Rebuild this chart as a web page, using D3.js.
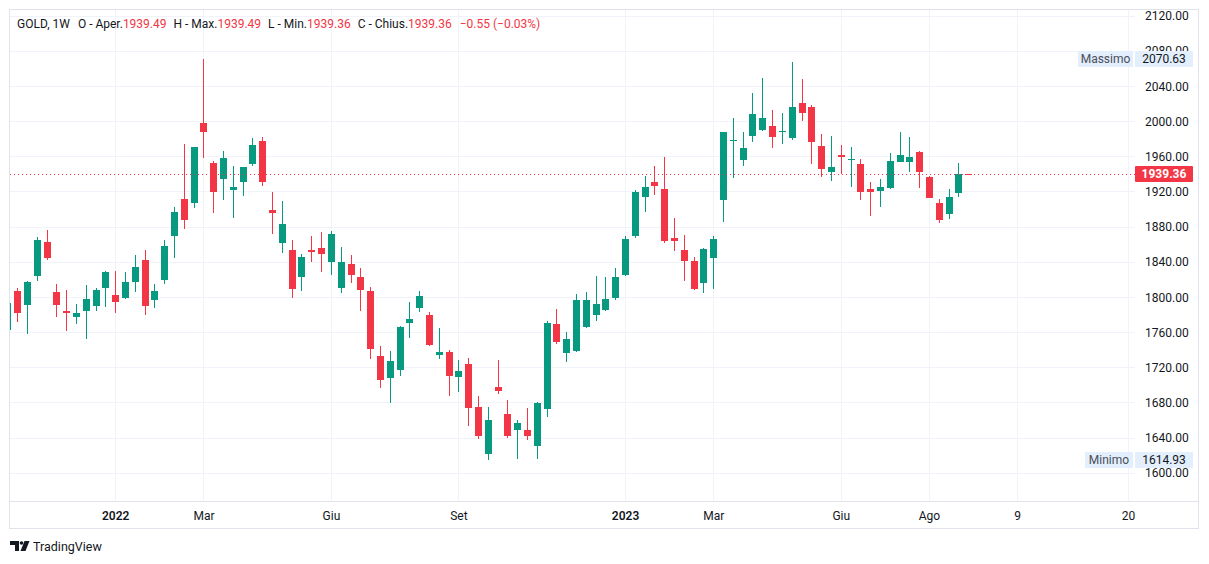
<!DOCTYPE html>
<html>
<head>
<meta charset="utf-8">
<script src="https://cdnjs.cloudflare.com/ajax/libs/d3/7.8.5/d3.min.js"></script>
<style>
  html, body { margin: 0; padding: 0; background: #fff; }
  svg { display: block; font-family: Roboto, "Noto Sans", sans-serif; }
</style>
</head>
<body>
<svg id="chart" width="1209" height="564"></svg>
<script>
// weekly GOLD candles, bar index -1 is the one cut off at the left edge
var bars = d3.range(-1, 98);

var opens = [1762,
  1806.6, 1791, 1824, 1862.4, 1805.5, 1784.2, 1777.4, 1784.2, 1789.9, 1810.4,
  1802.1, 1799, 1817.2, 1841.9, 1796.7, 1819.5, 1869.5, 1911.3, 1907.1, 1997.7,
  1951.9, 1934.4, 1921.9, 1931, 1951.4, 1977.3, 1898.8, 1861.6, 1853.3, 1822.9,
  1853.3, 1855.5, 1840, 1810.4, 1837.3, 1822.6, 1806.6, 1732.7, 1708, 1717.1,
  1770.6, 1787.6, 1779.3, 1734.2, 1737.2, 1709.1, 1723.6, 1674.7, 1621.6, 1697.4,
  1666.7, 1648.9, 1648.5, 1630.7, 1672.7, 1769.1, 1736.4, 1738.7, 1766, 1779.7,
  1785, 1799, 1825.2, 1869.5, 1913.9, 1930.6, 1922.7, 1866.9, 1853.3, 1840.8,
  1816.1, 1844.5, 1910.5, 1977.6, 1956, 1983.3, 1990.1, 1994.3, 1987.8, 1981,
  2020.5, 2015.9, 1971.6, 1942.3, 1961.3, 1956, 1951.1, 1922.7, 1920.7, 1924.1,
  1953.7, 1953.7, 1964.7, 1936.3, 1906.7, 1893.9, 1918.4, 1939.49];

var highs = [1800,
  1809.7, 1818, 1868.4, 1876, 1814.6, 1807.8, 1791.8, 1813.5, 1810, 1829.7,
  1829.4, 1828.2, 1847.6, 1853.3, 1814.6, 1864.6, 1902.5, 1973.8, 1971, 2070.63,
  1954.5, 1965.9, 1948.8, 1948, 1980.7, 1982.1, 1919.2, 1909, 1864.6, 1848.7,
  1869.2, 1873.7, 1874.9, 1856.7, 1847.6, 1832.8, 1811.2, 1744.1, 1738.4, 1766.8,
  1794.1, 1806.6, 1782.7, 1764.9, 1739.5, 1728.1, 1730.4, 1687.2, 1674.7, 1728.1,
  1682.6, 1659.9, 1673.5, 1680.4, 1772.5, 1786.1, 1760, 1803.2, 1805.5, 1823.7,
  1822.5, 1832.8, 1869.2, 1921.5, 1937.4, 1948.8, 1959, 1889.7, 1870.3, 1845.3,
  1855.5, 1869.2, 1988, 2003.4, 1987.5, 2031.9, 2048.9, 2012.5, 2009.1, 2067.1,
  2047.8, 2018.2, 1985.2, 1982.9, 1972.7, 1970.4, 1957.1, 1930.6, 1934, 1963.6,
  1987.5, 1981.8, 1965.9, 1937, 1910.9, 1922.7, 1952.2, 1939.49];

var lows = [1755,
  1771.7, 1758, 1818.3, 1842.2, 1777.4, 1761.5, 1769.4, 1752.4, 1784.2, 1788.4,
  1782, 1798, 1805.8, 1779.7, 1787.6, 1815, 1844.5, 1877.1, 1901.4, 1958.3,
  1895, 1910.5, 1890, 1915, 1949.2, 1926.4, 1871.8, 1850.2, 1799, 1807,
  1840, 1828.6, 1825.2, 1804.7, 1816.1, 1784.2, 1729.6, 1696.6, 1679.6, 1710.3,
  1753.5, 1783.1, 1744.4, 1729.6, 1687.5, 1691.4, 1653.4, 1638.6, 1614.93, 1689.8,
  1639.8, 1615.5, 1637.5, 1615.9, 1663.6, 1746.3, 1725.9, 1737.5, 1765, 1772.5,
  1783.9, 1797, 1823.7, 1867.3, 1896.8, 1916.2, 1861.6, 1852.5, 1818.3, 1808.1,
  1804.7, 1809.2, 1885.5, 1934.8, 1949.2, 1976.5, 1989, 1969.6, 1974.2, 1978.7,
  2000.3, 1951.4, 1936.6, 1932.1, 1940.1, 1925.3, 1910.5, 1892.3, 1902.5, 1923,
  1953, 1942, 1924.1, 1912, 1884.3, 1888.9, 1913.9, 1939.36];

var closes = [1793,
  1782, 1816.9, 1864.6, 1844.5, 1791, 1782, 1782, 1797.5, 1807.8, 1828.2,
  1794.5, 1816.9, 1833.9, 1789.9, 1806.6, 1857.8, 1896.1, 1887.4, 1970.4, 1987.8,
  1919.6, 1957.9, 1924.9, 1947.7, 1972.4, 1931, 1895.7, 1882.8, 1809.2, 1845.3,
  1851, 1849, 1871.5, 1839.6, 1825.2, 1808.1, 1741, 1705.7, 1727, 1765.7,
  1774.8, 1800.9, 1745.5, 1736.9, 1710.3, 1715.6, 1673.9, 1642, 1659.9, 1693.2,
  1642, 1656.5, 1642, 1679.2, 1770.2, 1748.9, 1752, 1796.4, 1796.4, 1791.8,
  1797.5, 1822.6, 1865.8, 1919.2, 1924.9, 1926.4, 1863.8, 1863.8, 1841.1, 1809.2,
  1854.4, 1865.8, 1987.5, 1978.7, 1969.3, 2008, 2003.4, 1982.1, 1989, 2015.9,
  2009.4, 1976.5, 1945.7, 1947.7, 1959.4, 1957.1, 1919.6, 1918.9, 1924.9, 1954.5,
  1961.7, 1959, 1941.6, 1912.8, 1887.7, 1913.6, 1939.7, 1939.36];

var priceTicks = d3.range(1600, 2121, 40);
var timeLabels = ["2022", "Mar", "Giu", "Set", "2023", "Mar", "Giu", "Ago", "9", "20"];
var timeBars   = [10, 19, 32, 45, 62, 71, 84, 93, 102, 113.3];
var yearLabels = ["2022", "2023"];

var maxValue = 2070.63, minValue = 1614.93;
var lastChange = -0.55, lastChangePct = -0.03;

var upColor = "#089981", downColor = "#f23645";
var textColor = "#131722", gridColor = "#f0f3fa", borderColor = "#e0e3eb";

var plotLeft = 10, plotRight = 1135, plotTop = 10, plotBottom = 501;

var svg = d3.select("#chart");

var x = d3.scaleLinear().domain([0, 97]).range([17.15, 968.2]);
var y = d3.scaleLinear().domain([1600, 2120]).range([472.7, 15.6]);

// frame
svg.append("rect")
  .attr("x", 9.5).attr("y", 9.5)
  .attr("width", 1189).attr("height", 519)
  .attr("fill", "none").attr("stroke", borderColor);
svg.append("line")
  .attr("x1", 9.5).attr("x2", 1198.5)
  .attr("y1", plotBottom + 0.5).attr("y2", plotBottom + 0.5)
  .attr("stroke", borderColor);

// grid
svg.append("g").selectAll("line")
  .data(priceTicks).join("line")
  .attr("x1", plotLeft).attr("x2", plotRight)
  .attr("y1", function(d){ return Math.round(y(d)) + 0.5; })
  .attr("y2", function(d){ return Math.round(y(d)) + 0.5; })
  .attr("stroke", gridColor);

svg.append("g").selectAll("line")
  .data(timeBars).join("line")
  .attr("x1", function(d){ return Math.round(x(d)) + 0.5; })
  .attr("x2", function(d){ return Math.round(x(d)) + 0.5; })
  .attr("y1", plotTop).attr("y2", plotBottom)
  .attr("stroke", gridColor);

// candles
svg.append("clipPath").attr("id", "plotClip")
  .append("rect")
  .attr("x", plotLeft).attr("y", plotTop)
  .attr("width", plotRight - plotLeft).attr("height", plotBottom - plotTop);

var candles = svg.append("g").attr("clip-path", "url(#plotClip)")
  .selectAll("g")
  .data(bars).join("g")
  .attr("fill", function(d, i){ return closes[i] >= opens[i] ? upColor : downColor; });

candles.append("rect")
  .attr("x", function(d){ return Math.round(x(d)); })
  .attr("width", 1)
  .attr("y", function(d, i){ return Math.round(y(highs[i])); })
  .attr("height", function(d, i){ return Math.max(1, Math.round(y(lows[i])) - Math.round(y(highs[i]))); });

candles.append("rect")
  .attr("x", function(d){ return Math.round(x(d)) - 3; })
  .attr("width", 7)
  .attr("y", function(d, i){ return Math.round(y(Math.max(opens[i], closes[i]))); })
  .attr("height", function(d, i){
    var t = Math.round(y(Math.max(opens[i], closes[i])));
    var b = Math.round(y(Math.min(opens[i], closes[i])));
    return Math.max(1, b - t);
  });

// last price line
var lastClose = closes[closes.length - 1];
svg.append("line")
  .attr("x1", plotLeft).attr("x2", plotRight)
  .attr("y1", Math.round(y(lastClose)) + 0.5).attr("y2", Math.round(y(lastClose)) + 0.5)
  .attr("stroke", downColor).attr("stroke-dasharray", "1,3");

// price axis
var yAxis = d3.axisRight(y).tickValues(priceTicks).tickSize(0).tickPadding(0)
  .tickFormat(d3.format(".2f"));
var ya = svg.append("g").attr("transform", "translate(1145,0)").call(yAxis);
ya.select(".domain").remove();
ya.selectAll("text")
  .attr("font-size", 12).attr("font-family", "Roboto, sans-serif")
  .attr("fill", textColor).attr("dy", "0.35em");

// time axis
var xAxis = d3.axisBottom(x).tickValues(timeBars).tickSize(0).tickPadding(0)
  .tickFormat(function(d, i){ return timeLabels[i]; });
var xa = svg.append("g").attr("transform", "translate(0,519.5)").call(xAxis);
xa.select(".domain").remove();
xa.selectAll("text")
  .attr("font-size", 12).attr("font-family", "Roboto, sans-serif")
  .attr("fill", textColor).attr("dy", 0).attr("y", 0)
  .attr("font-weight", function(d, i){ return yearLabels.indexOf(timeLabels[i]) >= 0 ? 600 : 400; });

// max / min / last price labels
function priceTag(value, name, bg, fg, bold, nameX){
  var cy = y(value);
  var top = Math.round(cy - 8);
  var g = svg.append("g");
  if (name){
    g.append("rect").attr("x", nameX).attr("y", top)
      .attr("width", 1133 - nameX).attr("height", 16).attr("fill", bg);
    g.append("text").attr("x", (nameX + 1133) / 2).attr("y", top + 12)
      .attr("text-anchor", "middle").attr("font-size", 12)
      .attr("fill", "#4a4e59").text(name);
  }
  g.append("rect").attr("x", 1135).attr("y", top)
    .attr("width", 58).attr("height", 16).attr("rx", 1).attr("fill", bg);
  g.append("text").attr("x", 1164).attr("y", top + 12)
    .attr("text-anchor", "middle").attr("font-size", 12)
    .attr("font-weight", bold ? 700 : 400)
    .attr("fill", fg).text(d3.format(".2f")(value));
}
priceTag(maxValue, "Massimo", "#e3effd", textColor, false, 1078);
priceTag(minValue, "Minimo", "#e3effd", textColor, false, 1085);
priceTag(lastClose, null, downColor, "#ffffff", true, 0);

// legend header: label + value pairs laid out one after another
var f2 = d3.format(".2f");
var last = opens.length - 1;
var header = svg.append("text").attr("x", 17).attr("y", 28)
  .attr("font-size", 12).attr("fill", textColor);
var parts = [
  [0, "GOLD, 1W", textColor],
  [8, "O - Aper.", textColor], [0, f2(opens[last]), downColor],
  [7, "H - Max.", textColor], [0, f2(highs[last]), downColor],
  [7, "L - Min.", textColor], [0, f2(lows[last]), downColor],
  [7, "C - Chius.", textColor], [0, f2(closes[last]), downColor],
  [8, "\u2212" + Math.abs(lastChange).toFixed(2) + " (\u2212" + Math.abs(lastChangePct).toFixed(2) + "%)", downColor]
];
parts.forEach(function(p){
  header.append("tspan").attr("dx", p[1] === "GOLD, 1W" ? 0 : p[0]).attr("fill", p[2]).text(p[1]);
});

// TradingView attribution
var logo = svg.append("g").attr("fill", textColor);
logo.append("path").attr("d", "M10,541 H19 V551 H15 V545 H10 Z");
logo.append("circle").attr("cx", 21.5).attr("cy", 543).attr("r", 1.8);
logo.append("path").attr("d", "M24.5,541 H29.5 L25.5,551 H20.5 Z");
svg.append("text").attr("x", 33).attr("y", 551).attr("font-size", 12.5)
  .attr("fill", textColor).text("TradingView");
</script>
</body>
</html>
